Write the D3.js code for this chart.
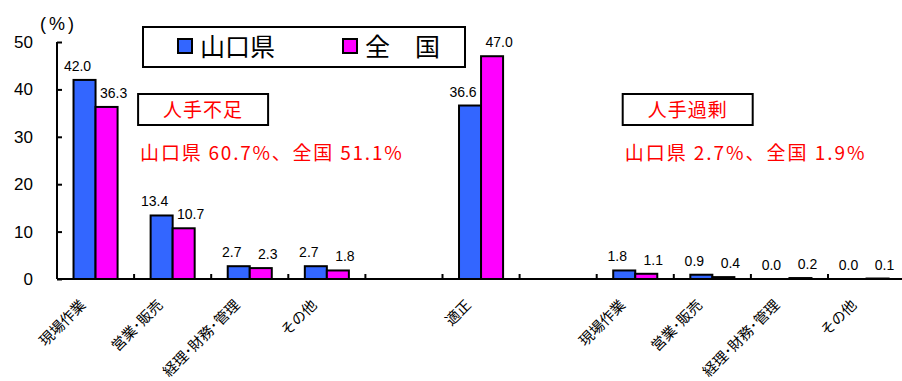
<!DOCTYPE html>
<html><head><meta charset="utf-8">
<script src="https://cdn.jsdelivr.net/npm/d3@7/dist/d3.min.js"></script>
<style>body{margin:0;background:#fff}svg{display:block}</style>
</head><body><svg id="c" width="902" height="381"></svg>
<script>
const categories = ["現場作業","営業･販売","経理･財務･管理","その他","","適正","","現場作業","営業･販売","経理･財務･管理","その他"];
const yamaguchi = [42.0, 13.4, 2.7, 2.7, null, 36.6, null, 1.8, 0.9, 0.0, 0.0];
const national  = [36.3, 10.7, 2.3, 1.8, null, 47.0, null, 1.1, 0.4, 0.2, 0.1];
const seriesNames = ["山口県", "全　国"];
const seriesColors = ["#3366FF", "#FF00FF"];
const yTicks = [0, 10, 20, 30, 40, 50];
const notes = [
  {title: "人手不足", text: "山口県 60.7%、全国 51.1%", slot: 1},
  {title: "人手過剰", text: "山口県 2.7%、全国 1.9%", slot: 7}
];

(function () {
const svg = d3.select("#c");
const mLeft = 57, mTop = 42, mBottom = 279, step = 77.1;
const x = d3.scaleBand().domain(d3.range(categories.length)).range([mLeft, mLeft + step * categories.length]).padding(0);
const inner = d3.scaleBand().domain([0, 1]).range([0, x.bandwidth()]).paddingInner(0).paddingOuter(0.75);
const y = d3.scaleLinear().domain([0, 50]).range([mBottom, mTop]);

// y axis
const yAxis = d3.axisLeft(y).tickValues(yTicks).tickSize(-5).tickPadding(24).tickFormat(d3.format("d"));
const gy = svg.append("g").attr("transform", `translate(${mLeft},0)`).call(yAxis);
gy.select(".domain").attr("stroke", "#000").attr("stroke-width", 2).attr("d", `M0,${mTop}V${mBottom}`);
gy.selectAll(".tick line").attr("stroke", "#000").attr("stroke-width", 2);
gy.selectAll(".tick text").attr("font-family", "Liberation Sans, Arial, sans-serif").attr("font-size", 17).attr("fill", "#000").attr("text-anchor", "end").attr("x", -24);

svg.append("text").attr("x", 40).attr("y", 30).attr("font-family", "Liberation Sans, Arial, sans-serif").attr("font-size", 18).attr("letter-spacing", 3).text("(%)");

// x axis
const gx = svg.append("g").attr("transform", `translate(0,${mBottom})`);
gx.append("line").attr("x1", mLeft).attr("x2", 902).attr("stroke", "#000").attr("stroke-width", 2);
gx.selectAll("line.tk").data(d3.range(1, categories.length)).join("line").attr("class", "tk")
  .attr("x1", d => x(d)).attr("x2", d => x(d)).attr("y1", 0).attr("y2", -5).attr("stroke", "#000").attr("stroke-width", 2);
gx.selectAll("text.cat").data(categories.map((c, i) => ({c, i})).filter(d => d.c)).join("text").attr("class", "cat")
  .attr("transform", d => `translate(${x(d.i) + x.bandwidth() / 2 - 9},${27}) rotate(-45)`)
  .attr("text-anchor", "end")
  .attr("font-family", "Noto Sans CJK JP, sans-serif").attr("font-size", 14.5).text(d => d.c);

// bars
const series = [yamaguchi, national];
const labelDx = [-7, 7];
series.forEach((vals, s) => {
  const data = vals.map((v, i) => ({v, i})).filter(d => d.v !== null);
  svg.append("g").selectAll("rect").data(data).join("rect")
    .attr("x", d => x(d.i) + inner(s))
    .attr("width", inner.bandwidth())
    .attr("y", d => y(d.v))
    .attr("height", d => y(0) - y(d.v))
    .attr("fill", seriesColors[s]).attr("stroke", "#000").attr("stroke-width", 2);
  svg.append("g").selectAll("text").data(data).join("text")
    .attr("x", d => x(d.i) + inner(s) + inner.bandwidth() / 2 + labelDx[s])
    .attr("y", d => y(d.v) - 9)
    .attr("text-anchor", "middle")
    .attr("font-family", "Liberation Sans, Arial, sans-serif").attr("font-size", 14).attr("fill", "#000")
    .text(d => d.v.toFixed(1));
});

// legend
const lg = svg.append("g");
lg.append("rect").attr("x", 143).attr("y", 27).attr("width", 322).attr("height", 40).attr("fill", "#fff").attr("stroke", "#000").attr("stroke-width", 2);
const legendX = [178, 343];
seriesNames.forEach((n, s) => {
  lg.append("rect").attr("x", legendX[s]).attr("y", 39).attr("width", 14).attr("height", 14).attr("fill", seriesColors[s]).attr("stroke", "#000").attr("stroke-width", 2);
  lg.append("text").attr("x", legendX[s] + 22).attr("y", 56).attr("font-family", "Noto Sans CJK JP, sans-serif").attr("font-size", 25).attr("fill", "#000").text(n);
});

// notes
const noteOffsets = [4, 26];
notes.forEach((n, k) => {
  const bx = x(n.slot) + noteOffsets[k];
  const g = svg.append("g");
  g.append("rect").attr("x", bx).attr("y", 94).attr("width", 130).attr("height", 31).attr("fill", "#fff").attr("stroke", "#000").attr("stroke-width", 2);
  g.append("text").attr("x", bx + 65).attr("y", 117).attr("text-anchor", "middle").attr("letter-spacing", 1).attr("font-family", "Noto Sans CJK JP, sans-serif").attr("font-size", 19).attr("fill", "#FF0000").text(n.title);
  const t = g.append("text").attr("x", bx + 2).attr("y", 160).attr("font-family", "Noto Sans CJK JP, sans-serif").attr("font-size", 19).attr("fill", "#FF0000").text(n.text);
  const halfCount = n.text.replace(/[^\x20-\x7e]/g, "").length;
  const fullCount = n.text.length - halfCount;
  t.attr("textLength", (fullCount + halfCount / 2) * 21.8).attr("lengthAdjust", "spacing");
});
})();
</script></body></html>
